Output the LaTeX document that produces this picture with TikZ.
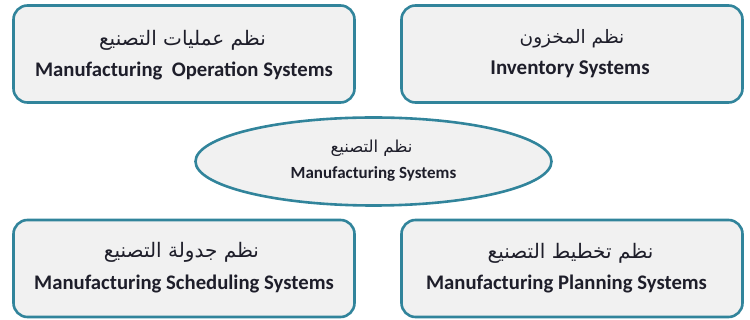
\documentclass[tikz,border=0pt]{standalone}
\usepackage{fontspec}
\setmainfont{Carlito}
\newfontfamily\arabicfont[Script=Arabic]{DejaVu Sans}
\TeXXeTstate=1
\usetikzlibrary{shapes.geometric}
\definecolor{tealedge}{HTML}{31849B}
\definecolor{boxfill}{HTML}{F1F1F1}
\definecolor{txt}{HTML}{1E1E2A}
\tikzset{
  sysbox/.style={draw=tealedge, line width=2.6pt, fill=boxfill, rounded corners=14pt, minimum width=341pt, minimum height=97pt, inner sep=0pt},
  hubell/.style={draw=tealedge, line width=2.6pt, fill=boxfill, ellipse, minimum width=356pt, minimum height=88pt, inner sep=0pt},
  artext/.style={text=txt, font=\arabicfont\fontsize{20}{22}\selectfont, inner sep=0pt},
  entext/.style={text=txt, font=\bfseries\fontsize{20.7}{22}\selectfont, inner sep=0pt},
  arsmall/.style={text=txt, font=\arabicfont\fontsize{16.5}{18}\selectfont, inner sep=0pt},
  ensmall/.style={text=txt, font=\bfseries\fontsize{17}{19}\selectfont, inner sep=0pt}
}
\begin{document}
\begin{tikzpicture}[x=1pt,y=-1pt]
\useasboundingbox (0,0) rectangle (750,320);
\node[sysbox] (tl) at (184,54) {};
\node[sysbox] (tr) at (572,54) {};
\node[sysbox] (bl) at (184,268.5) {};
\node[sysbox] (br) at (572,268.5) {};
\node[hubell] (hub) at (373.5,161.5) {};
% top-left
\node[artext] (tlar) at (182.5,40) {\beginR نظم عمليات التصنيع\endR};
\node[entext] (tlen) at (184,71) {Manufacturing\ \ Operation Systems};
% top-right
\node[artext, font=\arabicfont\fontsize{18.5}{20}\selectfont] (trar) at (572,39) {\beginR نظم المخزون\endR};
\node[entext, font=\bfseries\fontsize{21}{23}\selectfont] (tren) at (570,69) {Inventory Systems};
% hub
\node[arsmall] (hubar) at (371.5,148) {\beginR نظم التصنيع\endR};
\node[ensmall] (huben) at (373.5,174) {Manufacturing Systems};
% bottom-left
\node[artext] (blar) at (181.5,252) {\beginR نظم جدولة التصنيع\endR};
\node[entext] (blen) at (184,284) {Manufacturing Scheduling Systems};
% bottom-right
\node[artext] (brar) at (570.5,253) {\beginR نظم تخطيط التصنيع\endR};
\node[entext] (bren) at (566.5,284) {Manufacturing Planning Systems};
\end{tikzpicture}
\end{document}
